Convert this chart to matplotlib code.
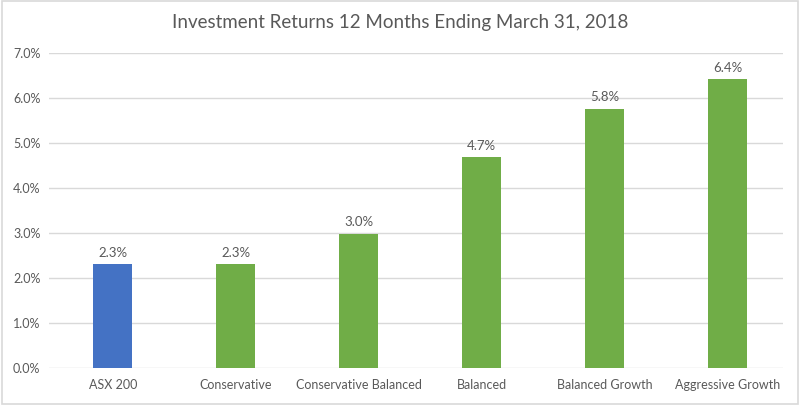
import matplotlib.pyplot as plt
from matplotlib.patches import Rectangle
from matplotlib.ticker import FuncFormatter

plt.rcParams['font.family'] = ['Lato', 'DejaVu Sans']

# data (percent)
categories = ['ASX 200', 'Conservative', 'Conservative Balanced', 'Balanced',
              'Balanced Growth', 'Aggressive Growth']
returns = [2.31, 2.31, 2.99, 4.69, 5.77, 6.43]
bar_colors = ['#4472C4', '#70AD47', '#70AD47', '#70AD47', '#70AD47', '#70AD47']

text_col = '#595959'

fig = plt.figure(figsize=(8, 4.05), dpi=100)
ax = fig.add_axes([0.061, 0.0906, 0.918, 0.7778])

x = range(len(categories))
bars = ax.bar(x, returns, width=0.315, color=bar_colors, zorder=3)

for b, v in zip(bars, returns):
    ax.text(b.get_x() + b.get_width() / 2, v + 0.12, '{:.1f}%'.format(v),
            ha='center', va='bottom', fontsize=9.5, color=text_col)

ax.set_xlim(-0.52, 5.45)
ax.set_ylim(0, 7)
ax.set_yticks([i for i in range(8)])
ax.yaxis.set_major_formatter(FuncFormatter(lambda v, p: '{:.1f}%'.format(v)))
ax.set_xticks(list(x))
ax.set_xticklabels(categories)
ax.tick_params(axis='both', length=0, labelsize=9, colors=text_col)
ax.tick_params(axis='x', pad=8)
ax.tick_params(axis='y', pad=6)
ax.grid(axis='y', color='#D9D9D9', linewidth=1, zorder=0)
for s in ax.spines.values():
    s.set_visible(False)

fig.text(0.5, 0.945, 'Investment Returns 12 Months Ending March 31, 2018',
         ha='center', va='center', fontsize=13.5, color=text_col)

# light border round the chart
fig.patches.append(Rectangle((0.002, 0.003), 0.996, 0.994, transform=fig.transFigure,
                             fill=False, edgecolor='#D9D9D9', linewidth=1.2))

plt.savefig('out.png', dpi=100)
